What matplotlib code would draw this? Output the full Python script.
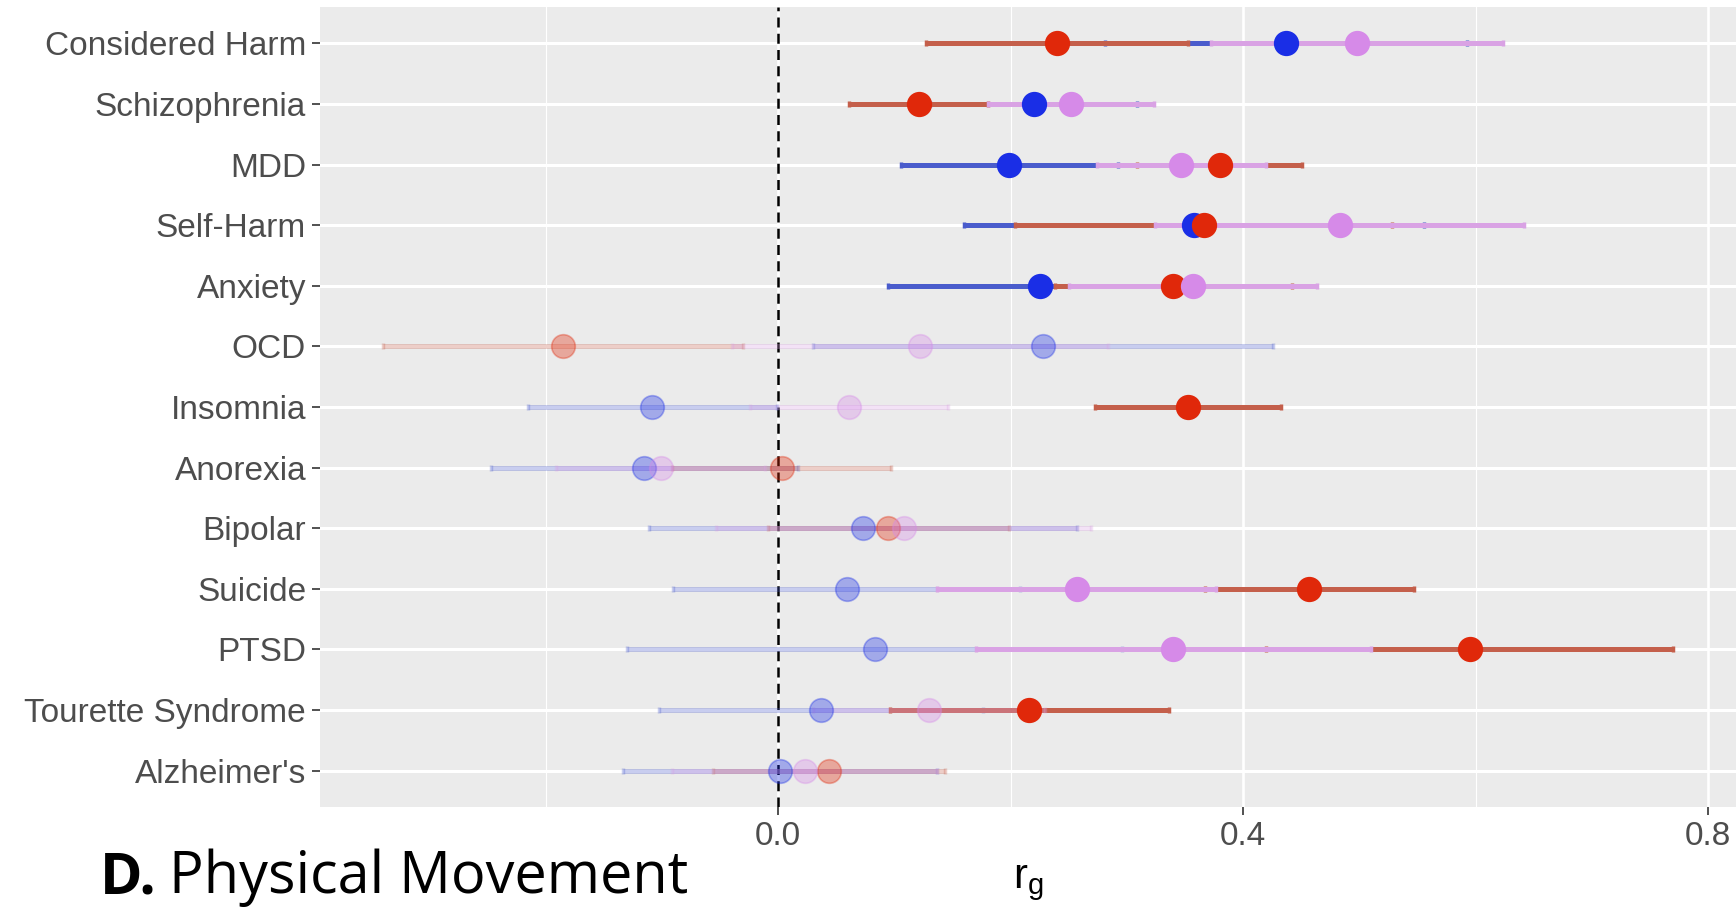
import matplotlib
matplotlib.use("Agg")
from matplotlib import pyplot as plt
import numpy as np

# rows, top to bottom
categories = ["Considered Harm", "Schizophrenia", "MDD", "Self-Harm", "Anxiety",
              "OCD", "Insomnia", "Anorexia", "Bipolar", "Suicide", "PTSD",
              "Tourette Syndrome", "Alzheimer's"]

red_est = [0.240, 0.121, 0.380, 0.366, 0.340, -0.185, 0.353, 0.003, 0.095, 0.457, 0.595, 0.216, 0.044]
red_ci = [0.113, 0.060, 0.071, 0.162, 0.102, 0.155, 0.080, 0.094, 0.104, 0.090, 0.175, 0.120, 0.100]
red_sig = [1, 1, 1, 1, 1, 0, 1, 0, 0, 1, 1, 1, 0]

blue_est = [0.437, 0.220, 0.199, 0.358, 0.225, 0.228, -0.108, -0.115, 0.073, 0.059, 0.083, 0.037, 0.002]
blue_ci = [0.156, 0.089, 0.093, 0.198, 0.130, 0.198, 0.107, 0.132, 0.184, 0.149, 0.213, 0.139, 0.135]
blue_sig = [1, 1, 1, 1, 1, 0, 0, 0, 0, 0, 0, 0, 0]

purple_est = [0.498, 0.252, 0.347, 0.483, 0.357, 0.122, 0.061, -0.101, 0.108, 0.257, 0.340, 0.130, 0.023]
purple_ci = [0.126, 0.071, 0.073, 0.159, 0.107, 0.162, 0.085, 0.090, 0.161, 0.120, 0.170, 0.100, 0.114]
purple_sig = [1, 1, 1, 1, 1, 0, 0, 0, 0, 1, 1, 0, 0]

x_ticks = [0.0, 0.4, 0.8]
x_tick_labels = ["0.0", "0.4", "0.8"]

# (estimates, ci, significant, point colour, line colour)
series = [
    (blue_est, blue_ci, blue_sig, "#1a2ee6", "#4a5ccc"),
    (red_est, red_ci, red_sig, "#e0280a", "#c45f4b"),
    (purple_est, purple_ci, purple_sig, "#d68ae8", "#d9a2e4"),
]

plt.rcParams["font.family"] = ["Liberation Sans", "DejaVu Sans"]
plt.rcParams["mathtext.fontset"] = "custom"
plt.rcParams["mathtext.rm"] = "Liberation Sans"

fig = plt.figure(figsize=(17.36, 9.07), dpi=100)
ax = fig.add_axes([320 / 1736, 1 - 807 / 907, 1 - 320 / 1736, 800 / 907])
ax.set_facecolor("#ebebeb")
for s in ax.spines.values():
    s.set_visible(False)

ypos = np.arange(len(categories))[::-1]

# grid
for gx in [-0.2, 0.2, 0.6]:
    ax.axvline(gx, color="white", lw=0.8, zorder=0)
for gx in x_ticks:
    ax.axvline(gx, color="white", lw=1.9, zorder=0)
for gy in ypos:
    ax.axhline(gy, color="white", lw=2.2, zorder=0)

ax.axvline(0, color="black", lw=1.8, ls=(0, (4, 2.5)), zorder=1)

# error bars first, then points
for est, ci, sig, pc, lc in series:
    for i in range(len(categories)):
        a = 1.0 if sig[i] else 0.3
        ax.errorbar(est[i], ypos[i], xerr=ci[i], fmt="none", ecolor=lc,
                    elinewidth=3.6, capsize=2.5, capthick=2.5, alpha=a, zorder=2)
for est, ci, sig, pc, lc in series:
    for i in range(len(categories)):
        a = 1.0 if sig[i] else 0.35
        ax.plot(est[i], ypos[i], "o", ms=17, color=pc, mec=pc, mew=1.2,
                alpha=a, zorder=3)

ax.set_xlim(-0.394, 0.824)
ax.set_ylim(-0.6, len(categories) - 1 + 0.6)
ax.set_yticks(ypos)
ax.set_yticklabels(categories)
ax.set_xticks(x_ticks)
ax.set_xticklabels(x_tick_labels)
ax.tick_params(axis="both", colors="#333333", labelcolor="#4d4d4d",
               labelsize=24, length=6, width=1.2, pad=4)
ax.set_xlabel(r"$\mathrm{r}_\mathrm{g}$", fontsize=30, labelpad=8)

# panel tag at the bottom left
fig.canvas.draw()
r = fig.canvas.get_renderer()
t1 = fig.text(100 / 1736, 1 - 893 / 907, "D.", fontsize=41.5, fontweight="bold",
              family=["Open Sans", "DejaVu Sans"], va="baseline")
w = t1.get_window_extent(r).width
fig.text((100 + w + 12) / 1736, 1 - 893 / 907, "Physical Movement", fontsize=41.5,
         family=["Open Sans", "DejaVu Sans"], va="baseline")

fig.savefig("out.png", dpi=100)
